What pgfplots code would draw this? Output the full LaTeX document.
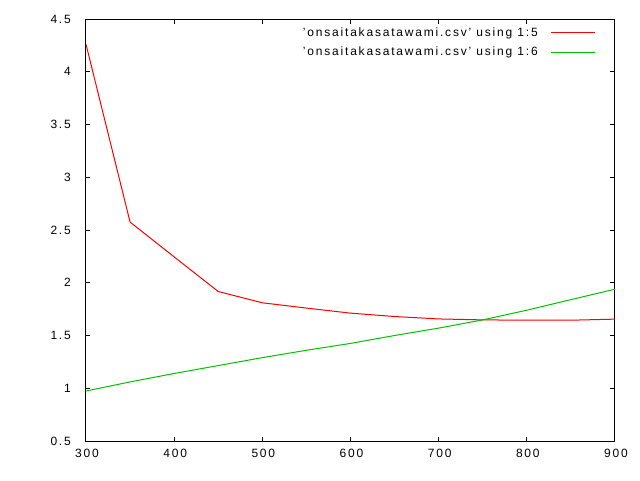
\documentclass[border=0pt]{standalone}
\usepackage{pgfplots}
\pgfplotsset{compat=1.18}
\usepackage{fontspec}
\setmainfont{Liberation Sans}[LetterSpace=15]
\definecolor{gred}{RGB}{255,0,0}
\definecolor{ggreen}{RGB}{0,192,0}
\begin{document}
\fontsize{12}{14}\selectfont
\begin{tikzpicture}[x=1pt,y=1pt]
\begin{axis}[
  scale only axis,
  width=529pt, height=422pt,
  xmin=300, xmax=900, ymin=0.5, ymax=4.5,
  xtick={300,400,...,900},
  ytick={0.5,1,...,4.5},
  tick align=inside,
  major tick length=4.5pt,
  minor tick num=0,
  axis line style={line width=1pt},
  tick style={line width=1pt, black},
  /pgf/number format/assume math mode=true,
  /pgf/number format/fixed,
  yticklabel style={/pgf/number format/precision=1},
  ticklabel style={font=\fontsize{12}{14}\selectfont},
  xticklabel style={yshift=-4pt, xshift=1pt},
  yticklabel style={xshift=-11pt},
  legend plot pos=right,
  legend cell align=right,
  legend image code/.code={\draw[#1] (0pt,0pt) -- (44pt,0pt);},
  legend style={draw=none, fill=none, at={(0.964,0.985)}, anchor=north east,
    font=\fontsize{12}{14}\selectfont, row sep=5pt, inner sep=0pt,
    /tikz/every odd column/.append style={column sep=11pt}},
  clip=false,
]
\addplot[gred, line width=1pt] coordinates {
(300,4.26) (350,2.575) (400,2.245) (450,1.917) (500,1.810) (550,1.76) (600,1.712)
(650,1.68) (700,1.657) (750,1.648) (800,1.645) (850,1.645) (900,1.655)};
\addlegendentry{'onsaitakasatawami.csv' using 1:5}
\addplot[ggreen, line width=1pt] coordinates {
(300,0.974) (350,1.06) (400,1.14) (450,1.215) (500,1.29) (550,1.36) (600,1.425)
(650,1.50) (700,1.57) (750,1.648) (800,1.74) (850,1.84) (900,1.939)};
\addlegendentry{'onsaitakasatawami.csv' using 1:6}
\end{axis}
\path (0,0) ++(-86pt,-39pt) rectangle ++(640pt,480pt);
\end{tikzpicture}
\end{document}
